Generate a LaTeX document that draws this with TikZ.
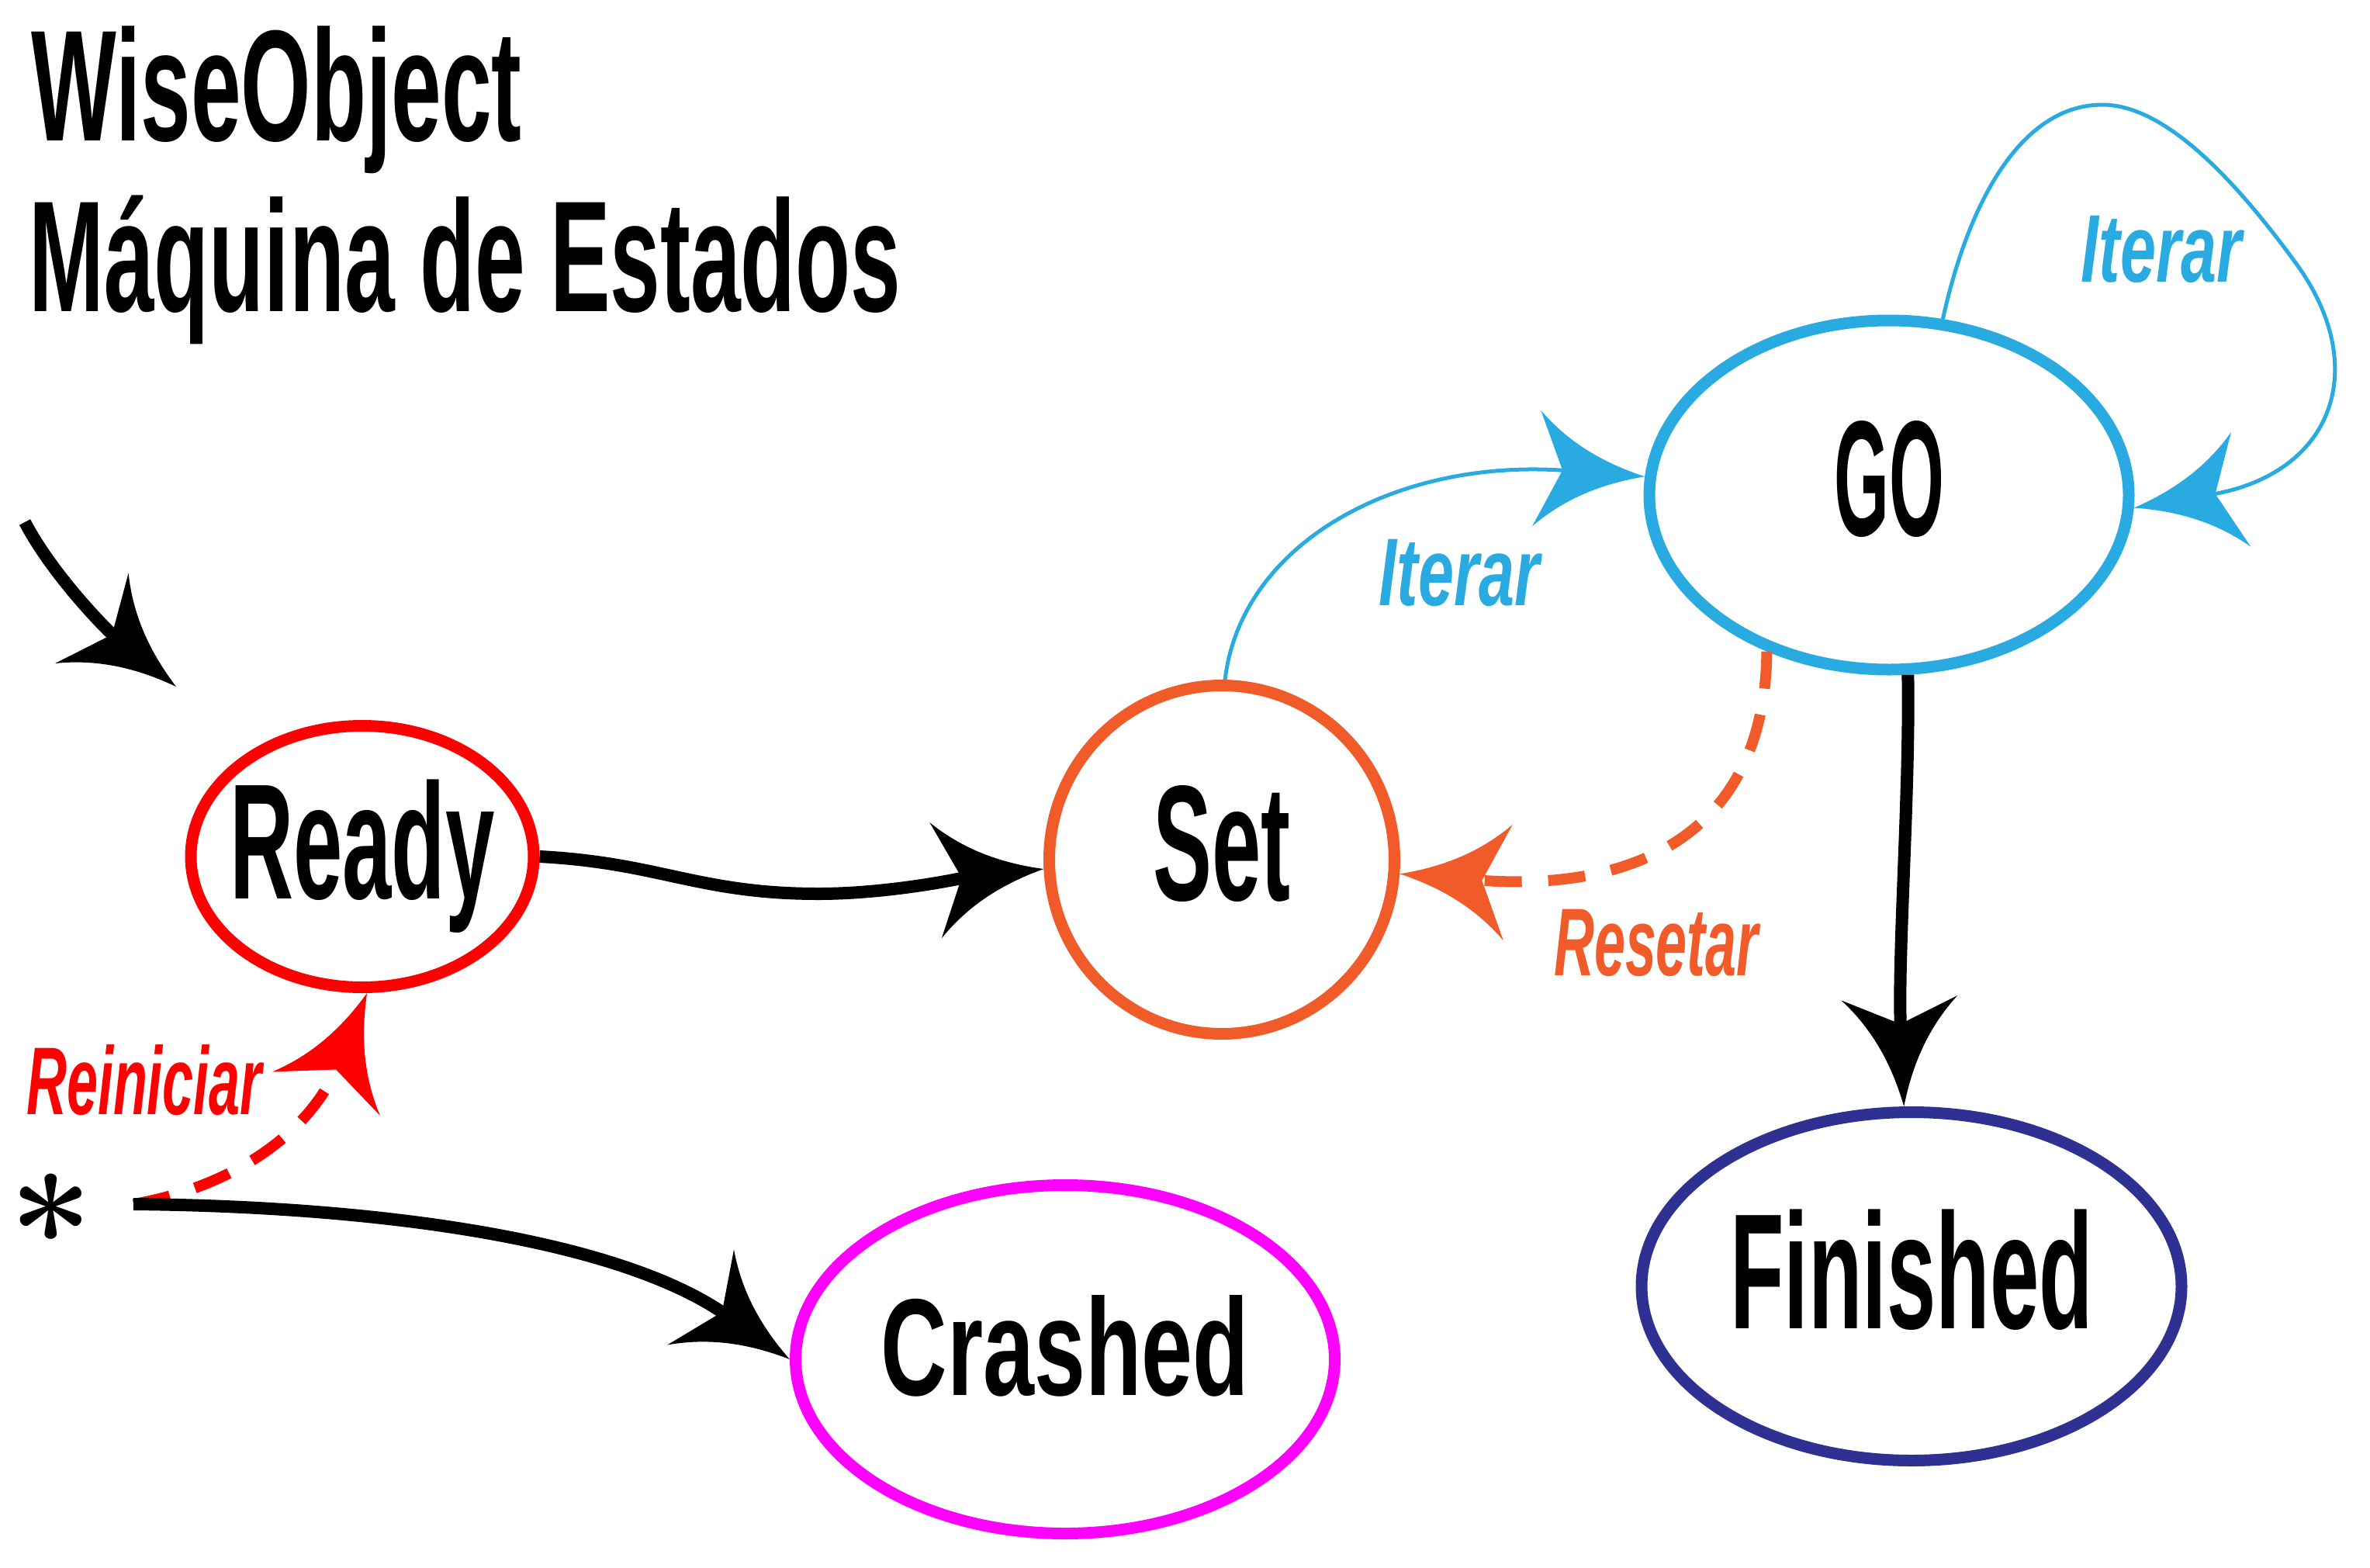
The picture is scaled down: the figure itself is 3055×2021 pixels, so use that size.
\documentclass[tikz,border=0pt]{standalone}
\usepackage{fontspec}
\usepackage{graphicx}
\usetikzlibrary{arrows.meta,shapes.geometric}
\newfontfamily\titlefont[FakeStretch=0.57]{Liberation Sans}
\newfontfamily\statefont[FakeStretch=0.537]{Liberation Sans}
\newfontfamily\edgefont[FakeStretch=0.58]{Liberation Sans}
\definecolor{cRed}{HTML}{FF0000}
\definecolor{cOrange}{HTML}{F15A29}
\definecolor{cBlue}{HTML}{29ABE2}
\definecolor{cNavy}{HTML}{2E3192}
\definecolor{cMagenta}{HTML}{FF00FF}

\pgfdeclarearrow{
  name = Swoosh,
  parameters = {\the\pgfarrowlength,\the\pgfarrowwidth},
  setup code = {
    \pgfarrowssettipend{0pt}
    \pgfarrowssetlineend{-0.72\pgfarrowlength}
    \pgfarrowssetvisualbackend{-\pgfarrowlength}
    \pgfarrowssetbackend{-\pgfarrowlength}
    \pgfarrowshullpoint{0pt}{0pt}
    \pgfarrowshullpoint{-\pgfarrowlength}{0.5\pgfarrowwidth}
    \pgfarrowshullpoint{-\pgfarrowlength}{-0.5\pgfarrowwidth}
    \pgfarrowssavethe\pgfarrowlength
    \pgfarrowssavethe\pgfarrowwidth
  },
  drawing code = {
    \pgfpathmoveto{\pgfqpoint{0pt}{0pt}}
    \pgfpathcurveto{\pgfqpoint{-0.35\pgfarrowlength}{0.08\pgfarrowwidth}}{\pgfqpoint{-0.7\pgfarrowlength}{0.22\pgfarrowwidth}}{\pgfqpoint{-\pgfarrowlength}{0.5\pgfarrowwidth}}
    \pgfpathlineto{\pgfqpoint{-0.76\pgfarrowlength}{0pt}}
    \pgfpathlineto{\pgfqpoint{-\pgfarrowlength}{-0.5\pgfarrowwidth}}
    \pgfpathcurveto{\pgfqpoint{-0.7\pgfarrowlength}{-0.22\pgfarrowwidth}}{\pgfqpoint{-0.35\pgfarrowlength}{-0.08\pgfarrowwidth}}{\pgfqpoint{0pt}{0pt}}
    \pgfpathclose
    \pgfusepathqfill
  },
  defaults = {length = 140pt, width = 150pt}
}

\begin{document}
\begin{tikzpicture}[x=1pt,y=-1pt,
  state/.style={ellipse, draw, line width=15pt, inner sep=0pt},
  statetext/.style={font=\statefont\bfseries\fontsize{212}{212}\selectfont, inner sep=0pt},
  titletext/.style={font=\titlefont\bfseries\fontsize{204}{220}\selectfont, inner sep=0pt, anchor=base west},
  edgelabel/.style={font=\edgefont\bfseries\itshape\fontsize{124}{124}\selectfont, inner sep=0pt, anchor=base},
  conn/.style={line width=16pt, -{Swoosh}},
  dconn/.style={line width=14pt, dash pattern=on 48pt off 34pt, -{Swoosh}},
  bconn/.style={line width=5pt, draw=cBlue, -{Swoosh[fill=cBlue]}},
]
\useasboundingbox (0,0) rectangle (3055,2021);

% title
\node[titletext] (title1) at (40,181) {WiseObject};
\node[titletext] (title2) at (37,401) {Máquina de Estados};

% states
\node[state, draw=cRed, minimum width=442pt, minimum height=337pt] (ready) at (467,1104) {};
\node[state, draw=cOrange, minimum width=445pt, minimum height=449pt] (set) at (1575,1108) {};
\node[state, draw=cBlue, minimum width=618pt, minimum height=450pt] (go) at (2435,638) {};
\node[state, draw=cNavy, minimum width=696pt, minimum height=449pt] (finished) at (2464,1658) {};
\node[state, draw=cMagenta, minimum width=695pt, minimum height=449pt] (crashed) at (1373,1752) {};

\node[statetext] (ready-t) at (ready) {Ready\vphantom{Ey}};
\node[statetext] (set-t) at (set) {Set\vphantom{Ey}};
\node[statetext] (go-t) at (go) {\scalebox{0.8}[1]{GO\vphantom{Ey}}};
\node[statetext] (finished-t) at (finished) {Finished\vphantom{Ey}};
\node[statetext, font=\statefont\bfseries\fontsize{178}{178}\selectfont] (crashed-t) at (crashed) {\scalebox{1.24}[1]{Crashed\vphantom{Ey}}};

% asterisk and helper coordinates
\node[font=\bfseries\fontsize{190}{190}\selectfont, inner sep=0pt, anchor=base] (star) at (66,1655) {*};
\coordinate (src) at (172,1552);
\coordinate (i0) at (32,673);
\coordinate (i1) at (227,885);

% connectors
\draw[conn] (i0) .. controls (70,745) and (142,816) .. (i1);
\draw[conn] (ready.east) .. controls (850,1112) and (900,1152) .. (1055,1152)
  .. controls (1150,1152) and (1250,1130) .. (set.183);
\draw[conn] (go.276) .. controls (2462,1020) and (2446,1231) .. (finished);
\draw[dconn, draw=cOrange, -{Swoosh[fill=cOrange]}] (go.232) .. controls (2275,1080) and (2100,1150) .. (set);
\draw[bconn] (set.89) .. controls (1600,700) and (1800,590) .. (go);
\draw[bconn] (go.73) .. controls (2540,250) and (2610,135) .. (2710,135)
  .. controls (2790,135) and (2880,230) .. (2960,340)
  .. controls (3056,472) and (3010,610) .. (go.-3);
\draw[dconn, draw=cRed, -{Swoosh[fill=cRed]}] (src) .. controls (300,1530) and (400,1460) .. (ready.272);
\draw[conn] (src) .. controls (500,1555) and (800,1600) .. (crashed.west);

% labels
\node[edgelabel, text=cBlue] (lbl-iter1) at (1881,780) {\scalebox{1.15}[1]{Iterar}};
\node[edgelabel, text=cBlue] (lbl-iter2) at (2786,363) {\scalebox{1.15}[1]{Iterar}};
\node[edgelabel, text=cOrange] (lbl-reset) at (2135,1257) {Resetar};
\node[edgelabel, text=cRed] (lbl-rein) at (186,1436) {Reiniciar};
\end{tikzpicture}
\end{document}
